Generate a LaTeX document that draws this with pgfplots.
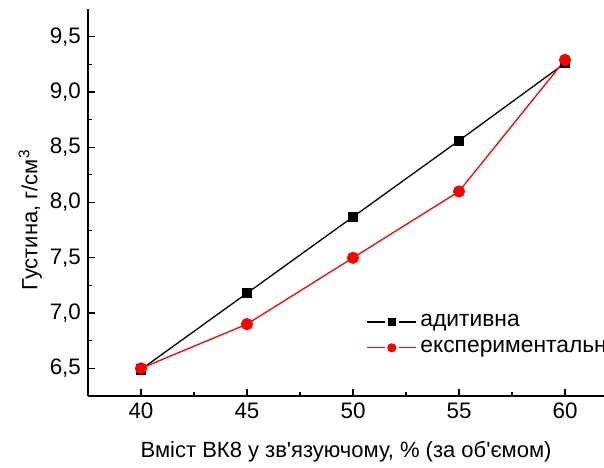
\documentclass[border=0pt]{standalone}
\usepackage{pgfplots}
\pgfplotsset{compat=1.18}
\usepackage{fontspec}
\setmainfont{Liberation Sans}
\begin{document}
\begin{tikzpicture}
\begin{axis}[
  at={(0,0)}, anchor=south west,
  scale only axis, width=265pt, height=193.5pt,
  xmin=37.5, xmax=62.5, ymin=6.25, ymax=9.75,
  axis x line*=bottom, axis y line*=left,
  axis line style={line width=0.6pt},
  xtick={40,45,50,55,60},
  ytick={6.5,7,7.5,8,8.5,9,9.5},
  minor tick num=1,
  tick align=inside,
  major tick length=3.5pt, minor tick length=2pt,
  tick style={line width=0.6pt, black},
  font=\fontsize{11}{13}\selectfont,
  ticklabel style={font=\fontsize{11.2}{13}\selectfont},
  yticklabel style={/pgf/number format/.cd, use comma, fixed, fixed zerofill, precision=1, assume math mode=true},
  xticklabel style={/pgf/number format/assume math mode=true},
  xlabel={Вміст ВК8 у зв\textquotesingle язуючому, \% (за об\textquotesingle ємом)},
  ylabel={Густина, г/см\textsuperscript{3}},
  xlabel style={at={(axis description cs:0.487,-0.145)}, anchor=center},
  ylabel style={at={(axis description cs:-0.109,0.455)}, anchor=center},
  legend style={draw=none, fill=none, at={(axis description cs:0.524,0.222)}, anchor=north west,
    font=\fontsize{11.4}{13}\selectfont, row sep=1.2pt, inner sep=0pt},
  legend cell align=left,
  legend image code/.code={
    \draw[#1,mark=none] (0pt,0pt) -- (9pt,0pt);
    \draw[#1,mark=none] (16pt,0pt) -- (24.5pt,0pt);
    \draw[#1,mark options={scale=0.72}] plot coordinates {(12.5pt,0pt)};
  },
]
\addplot[black, line width=0.65pt, mark=square*, mark size=2.2pt, mark options={solid}]
  coordinates {(40,6.49) (45,7.18) (50,7.87) (55,8.56) (60,9.26)};
\addlegendentry{адитивна}
\addplot[red, line width=0.65pt, mark=*, mark size=2.7pt, mark options={solid}]
  coordinates {(40,6.50) (45,6.90) (50,7.50) (55,8.10) (60,9.29)};
\addlegendentry{експериментальна}
\end{axis}
\pgfresetboundingbox
\useasboundingbox (-44pt,-35.5pt) rectangle (258pt,198pt);
\end{tikzpicture}
\end{document}
